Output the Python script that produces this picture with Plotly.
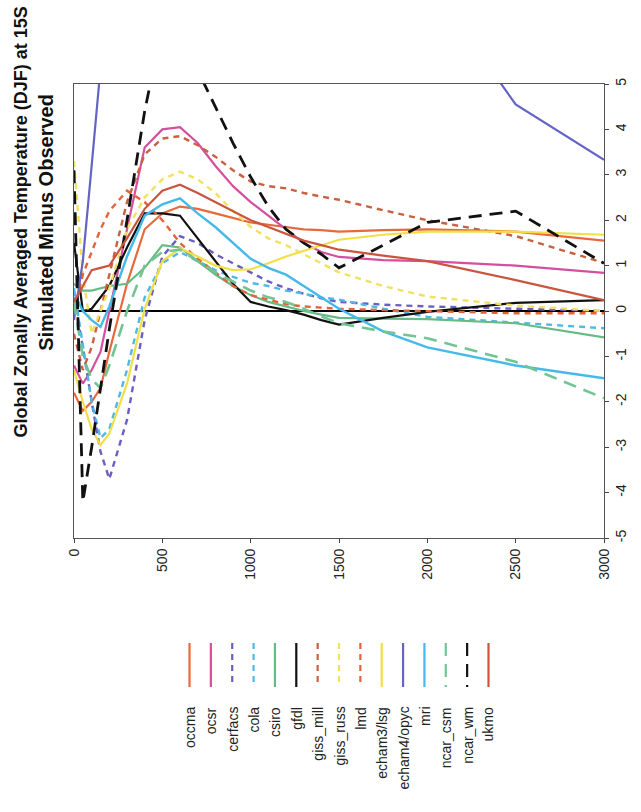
import plotly.graph_objects as go

# ---------------- data ----------------
depths = [0, 50, 100, 150, 200, 300, 400, 500, 600, 700, 800, 900, 1000,
          1100, 1200, 1300, 1400, 1500, 1750, 2000, 2500, 3000]

occma = [-1.8, -2.2, -2.0, -1.7, -0.9, 0.6, 1.8, 2.15, 2.3, 2.25, 2.15, 2.05, 1.95,
         1.9, 1.85, 1.8, 1.78, 1.75, 1.78, 1.8, 1.75, 1.55]
ocsr = [-1.2, -1.6, -1.3, -0.9, 0.0, 1.8, 3.6, 4.0, 4.05, 3.7, 3.2, 2.75, 2.4,
        2.1, 1.8, 1.5, 1.3, 1.19, 1.12, 1.1, 1.0, 0.84]
cerfacs = [0.3, -0.8, -2.0, -3.1, -3.7, -2.4, -0.2, 1.2, 1.65, 1.5, 1.25, 1.05, 0.85,
           0.65, 0.5, 0.38, 0.28, 0.2, 0.14, 0.1, 0.05, 0.0]
cola = [0.5, -0.8, -2.0, -2.8, -2.6, -1.3, 0.3, 1.05, 1.3, 1.1, 0.9, 0.75, 0.62,
        0.55, 0.45, 0.38, 0.3, 0.25, 0.05, -0.13, -0.25, -0.38]
csiro = [0.6, 0.45, 0.45, 0.5, 0.55, 0.6, 0.95, 1.45, 1.4, 1.1, 0.8, 0.55, 0.35,
         0.2, 0.1, 0.0, -0.08, -0.15, -0.17, -0.18, -0.27, -0.58]
gfdl = [1.5, 0.0, 0.05, 0.3, 0.55, 1.4, 2.15, 2.15, 2.1, 1.6, 1.1, 0.6, 0.2,
        0.1, 0.02, -0.08, -0.2, -0.3, -0.15, -0.02, 0.18, 0.24]
giss_mill = [-0.5, -1.3, -0.8, 0.0, 0.8, 2.4, 3.45, 3.8, 3.85, 3.65, 3.4, 3.1, 2.85,
             2.75, 2.7, 2.6, 2.52, 2.45, 2.22, 2.0, 1.65, 1.06]
giss_russ = [3.3, 0.8, -0.5, 0.0, 0.5, 1.8, 2.5, 2.9, 3.07, 2.9, 2.6, 2.2, 1.85,
             1.6, 1.45, 1.25, 1.05, 0.85, 0.55, 0.32, 0.12, 0.0]
lmd = [0.0, 0.8, 1.3, 1.8, 2.2, 2.65, 2.4, 2.0, 1.5, 1.15, 0.85, 0.55, 0.35,
       0.25, 0.15, 0.1, 0.07, 0.05, 0.02, 0.0, -0.05, -0.05]
echam3_lsg = [-1.3, -2.0, -2.6, -2.95, -2.7, -1.6, 0.05, 1.1, 1.38, 1.2, 1.0, 0.9, 0.92,
              1.05, 1.2, 1.32, 1.45, 1.57, 1.68, 1.75, 1.75, 1.68]
echam4_opyc = [-0.2, 1.1, 3.2, 5.3, 7.5, 9.0, 9.0, 9.0, 9.0, 9.0, 9.0, 9.0, 9.0,
               9.0, 9.0, 9.0, 9.0, 9.0, 8.5, 7.3, 4.55, 3.33]
mri = [0.4, 0.0, -0.2, -0.35, 0.1, 1.2, 2.1, 2.35, 2.48, 2.15, 1.85, 1.5, 1.15,
       0.95, 0.8, 0.55, 0.3, 0.05, -0.45, -0.8, -1.2, -1.48]
ncar_csm = [0.2, -1.0, -1.5, -1.7, -1.2, 0.0, 1.0, 1.3, 1.35, 1.1, 0.85, 0.65, 0.45,
            0.3, 0.2, 0.05, -0.12, -0.27, -0.45, -0.6, -1.12, -1.92]
ncar_wm = [3.1, -4.2, -3.0, -1.7, -0.4, 2.0, 4.4, 6.3, 6.5, 5.3, 4.5, 3.7, 2.95,
           2.3, 1.8, 1.5, 1.25, 0.95, 1.45, 1.95, 2.2, 1.05]
ukmo = [0.2, 0.55, 0.9, 0.95, 1.0, 1.6, 2.25, 2.65, 2.78, 2.6, 2.4, 2.2, 2.0,
        1.85, 1.7, 1.55, 1.45, 1.35, 1.22, 1.1, 0.68, 0.24]

model_names = ["occma", "ocsr", "cerfacs", "cola", "csiro", "gfdl", "giss_mill",
               "giss_russ", "lmd", "echam3/lsg", "echam4/opyc", "mri",
               "ncar_csm", "ncar_wm", "ukmo"]
model_values = [occma, ocsr, cerfacs, cola, csiro, gfdl, giss_mill, giss_russ,
                lmd, echam3_lsg, echam4_opyc, mri, ncar_csm, ncar_wm, ukmo]

x_ticks = [0, 500, 1000, 1500, 2000, 2500, 3000]
y_ticks = [5, 4, 3, 2, 1, 0, -1, -2, -3, -4, -5]

title_line1 = "Global Zonally Averaged Temperature (DJF) at 15S"
title_line2 = "Simulated Minus Observed"

# ---------------- styles ----------------
SHORT = "6px,5px"
LONG = "13px,8px"
styles = {
    "occma":       ("#E8693A", "solid", 2.2),
    "ocsr":        ("#D4509F", "solid", 2.2),
    "cerfacs":     ("#6A5FC0", SHORT, 2.4),
    "cola":        ("#4FB8E6", SHORT, 2.4),
    "csiro":       ("#66BB85", "solid", 2.2),
    "gfdl":        ("#111111", "solid", 2.2),
    "giss_mill":   ("#C8613F", SHORT, 2.4),
    "giss_russ":   ("#F2E15E", SHORT, 2.4),
    "lmd":         ("#E4633A", SHORT, 2.4),
    "echam3/lsg":  ("#F2DF45", "solid", 2.2),
    "echam4/opyc": ("#6464C4", "solid", 2.2),
    "mri":         ("#44B9EA", "solid", 2.4),
    "ncar_csm":    ("#72C493", LONG, 2.6),
    "ncar_wm":     ("#111111", LONG, 2.8),
    "ukmo":        ("#C9553E", "solid", 2.2),
}

W, H = 641, 812
ML, MR, MT, MB = 74, 21, 84, 274
PW, PH = W - ML - MR, H - MT - MB

fig = go.Figure()
for name, vals in zip(model_names, model_values):
    col, dash, wid = styles[name]
    fig.add_trace(go.Scatter(x=depths, y=vals, mode="lines", name=name,
                             line=dict(color=col, width=wid, dash=dash),
                             showlegend=False, hoverinfo="skip"))

tick_font = dict(family="Liberation Sans, Arial, sans-serif", size=14, color="#222")
fig.update_layout(
    width=W, height=H, margin=dict(l=ML, r=MR, t=MT, b=MB, pad=0),
    paper_bgcolor="white", plot_bgcolor="white",
    xaxis=dict(range=[0, 3000], tickvals=x_ticks, ticktext=[str(t) for t in x_ticks],
               tickangle=-90, ticks="outside", ticklen=4, tickcolor="#444",
               showline=True, linecolor="#555", linewidth=1, mirror=True,
               showgrid=False, zeroline=False, tickfont=tick_font),
    yaxis=dict(range=[-5, 5], side="right", tickvals=y_ticks,
               ticktext=[str(t) for t in y_ticks], tickangle=-90,
               ticks="outside", ticklen=4, tickcolor="#444",
               showline=True, linecolor="#555", linewidth=1, mirror=True,
               showgrid=False, zeroline=True, zerolinecolor="#000",
               zerolinewidth=2.2, tickfont=tick_font),
)

# title (rotated, on the left)
for px, txt, fs in [(19, title_line1, 18), (45, title_line2, 20)]:
    fig.add_annotation(text="<b>%s</b>" % txt, xref="paper", yref="paper",
                       x=(px - ML) / PW, y=(MT + PH - 222) / PH, showarrow=False,
                       textangle=-90, xanchor="center", yanchor="middle",
                       font=dict(family="Liberation Sans, Arial, sans-serif",
                                 size=fs, color="#111"))

# legend (rotated, below the plot)
leg_font = dict(family="Liberation Sans, Arial, sans-serif", size=14, color="#222")
n = len(model_names)
spacing = 22
x0 = ML + PW / 2 - spacing * (n - 1) / 2
for i, name in enumerate(model_names):
    col, dash, wid = styles[name]
    xp = (x0 + i * spacing - ML) / PW
    fig.add_shape(type="line", xref="paper", yref="paper",
                  x0=xp, x1=xp, y0=(MT + PH - 643) / PH, y1=(MT + PH - 687) / PH,
                  line=dict(color=col, width=2.2, dash=dash))
    fig.add_annotation(text=name, xref="paper", yref="paper", x=xp,
                       y=(MT + PH - 705) / PH, showarrow=False, textangle=-90,
                       xanchor="center", yanchor="top", font=leg_font)

fig.write_html("out.html", config={"displayModeBar": False})
